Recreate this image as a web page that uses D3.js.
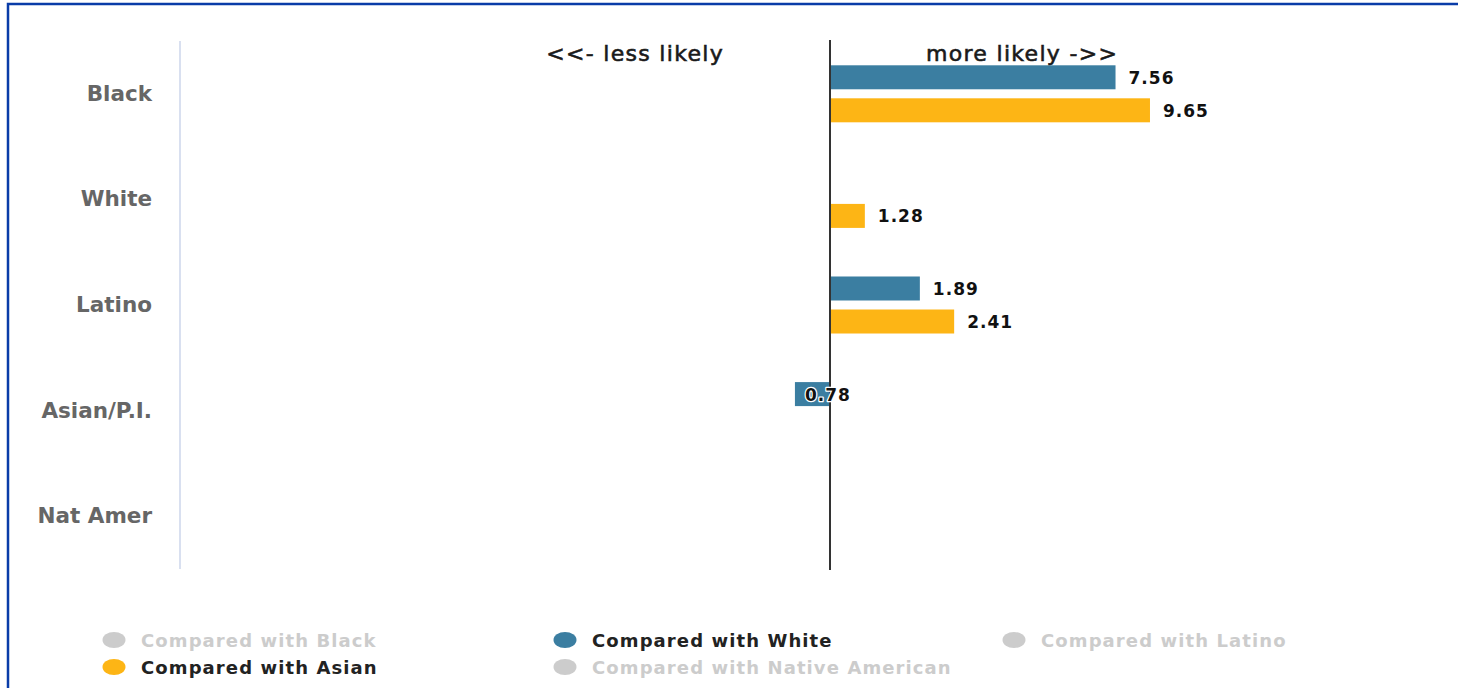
<!DOCTYPE html>
<html><head><meta charset="utf-8">
<script src="https://cdn.jsdelivr.net/npm/d3@7"></script>
<style>
html,body{margin:0;padding:0;background:#fff;}
svg{display:block;font-family:"DejaVu Sans",Verdana,sans-serif;}
</style></head>
<body>
<svg id="chart" width="1458" height="688"></svg>
<script>
// ---- data ----
const categories = ["Black", "White", "Latino", "Asian/P.I.", "Nat Amer"];
const seriesNames = ["Compared with Black", "Compared with White", "Compared with Latino", "Compared with Asian", "Compared with Native American"];
const seriesVisible = [false, true, false, true, false];
const comparedWithBlack = [null, null, null, null, null];
const comparedWithWhite = [7.56, null, 1.89, 0.78, null];
const comparedWithLatino = [null, null, null, null, null];
const comparedWithAsian = [9.65, 1.28, 2.41, null, null];
const comparedWithNativeAmerican = [null, null, null, null, null];
const seriesValues = [comparedWithBlack, comparedWithWhite, comparedWithLatino, comparedWithAsian, comparedWithNativeAmerican];
const directionLabels = ["<<- less likely", "more likely ->>"];

// ---- style ----
const seriesColors = ["#cccccc", "#3b7ea1", "#cccccc", "#fdb515", "#cccccc"];
const hiddenColor = "#cccccc";

const svg = d3.select("#chart");

// frame
svg.append("rect").attr("x", 8).attr("y", 4).attr("width", 1470).attr("height", 700)
  .attr("fill", "none").attr("stroke", "#0a3ca8").attr("stroke-width", 2.5);

const plotTop = 41, plotBottom = 569, plotLeft = 180;
const x = d3.scaleLog().domain([0.01, 100]).range([plotLeft, 1480]);
const y0 = d3.scaleBand().domain(categories).range([plotTop, plotBottom]);
const visNames = seriesNames.filter((s, i) => seriesVisible[i]);
const y1 = d3.scaleBand().domain(visNames).range([0, y0.bandwidth()])
  .paddingInner(0.273).paddingOuter(0.736);

// left axis line
svg.append("line").attr("x1", plotLeft).attr("x2", plotLeft)
  .attr("y1", plotTop).attr("y2", plotBottom)
  .attr("stroke", "#ccd6eb").attr("stroke-width", 1.5);

// category labels
svg.append("g").selectAll("text").data(categories).join("text")
  .attr("x", 152).attr("y", d => y0(d) + y0.bandwidth() / 2 + 1)
  .attr("text-anchor", "end").attr("dominant-baseline", "middle")
  .attr("font-size", 21.5).attr("font-weight", "bold").attr("fill", "#666")
  .text(d => d);

// bars
const bars = [];
seriesNames.forEach((s, si) => {
  if (!seriesVisible[si]) return;
  seriesValues[si].forEach((v, ci) => {
    if (v == null) return;
    bars.push({ s, si, cat: categories[ci], v });
  });
});

const gBars = svg.append("g");
gBars.selectAll("rect").data(bars).join("rect")
  .attr("x", d => Math.min(x(1), x(d.v)))
  .attr("width", d => Math.abs(x(d.v) - x(1)))
  .attr("y", d => y0(d.cat) + y1(d.s))
  .attr("height", y1.bandwidth())
  .attr("fill", d => seriesColors[d.si]);

// zero line
svg.append("line").attr("x1", x(1)).attr("x2", x(1))
  .attr("y1", plotTop - 1).attr("y2", plotBottom + 1)
  .attr("stroke", "#333").attr("stroke-width", 2);

// direction labels
svg.append("text").attr("x", x(1) - 106).attr("y", 61).attr("text-anchor", "end")
  .attr("font-size", 22).attr("letter-spacing", 1.3).attr("fill", "#1a1a1a")
  .attr("stroke", "#1a1a1a").attr("stroke-width", 0.6)
  .text(directionLabels[0]);
svg.append("text").attr("x", x(1) + 96).attr("y", 61).attr("text-anchor", "start")
  .attr("font-size", 22).attr("letter-spacing", 1.3).attr("fill", "#1a1a1a")
  .attr("stroke", "#1a1a1a").attr("stroke-width", 0.6)
  .text(directionLabels[1]);

// value labels
svg.append("g").selectAll("text").data(bars).join("text")
  .attr("x", d => d.v >= 1 ? x(d.v) + 13 : x(d.v) + 10)
  .attr("y", d => y0(d.cat) + y1(d.s) + y1.bandwidth() / 2 + 1.5)
  .attr("dominant-baseline", "middle")
  .attr("font-size", 17).attr("font-weight", "bold").attr("letter-spacing", 1)
  .attr("fill", "#111").attr("stroke", "#fff").attr("stroke-width", 2.5)
  .attr("stroke-linejoin", "round").attr("paint-order", "stroke")
  .text(d => d3.format(".2f")(d.v));

// legend
const legendCols = [114, 565, 1014];
const legendRows = [640, 667];
const legend = svg.append("g").selectAll("g").data(seriesNames).join("g")
  .attr("transform", (d, i) => `translate(${legendCols[i % 3]},${legendRows[Math.floor(i / 3)]})`);
legend.append("ellipse").attr("rx", 11.5).attr("ry", 8)
  .attr("fill", (d, i) => seriesVisible[i] ? seriesColors[i] : hiddenColor);
legend.append("text").attr("x", 27).attr("y", 7)
  .attr("font-size", 18).attr("font-weight", "bold").attr("letter-spacing", 1.1)
  .attr("fill", (d, i) => seriesVisible[i] ? "#222" : hiddenColor)
  .text(d => d);
</script>
</body></html>
